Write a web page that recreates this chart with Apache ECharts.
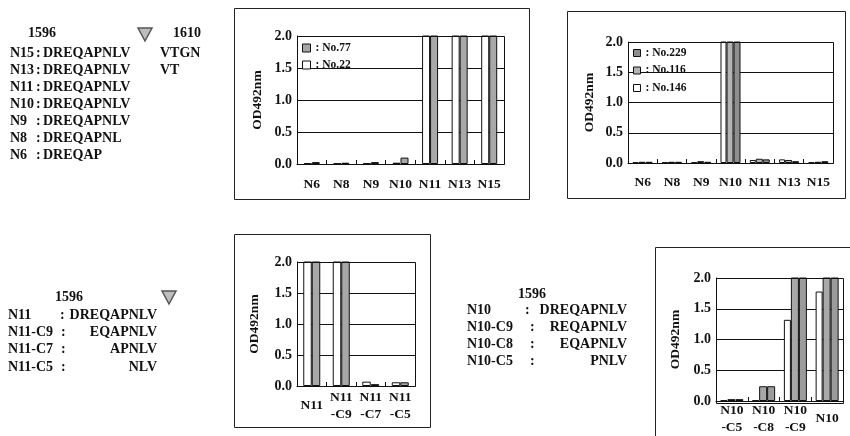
<!DOCTYPE html>
<html><head><meta charset="utf-8">
<script src="https://cdn.jsdelivr.net/npm/echarts@6/dist/echarts.min.js"></script>
<style>html,body{margin:0;padding:0;background:#fff}#c{width:850px;height:436px}</style>
</head><body><div id="c"></div>
<script>
// ---- data ----
var cats1 = ['N6','N8','N9','N10','N11','N13','N15'];
var c1_no22 = [0.01,0.01,0.01,0.02,2.5,2.5,2.5];
var c1_no77 = [0.03,0.02,0.03,0.10,2.5,2.5,2.5];

var cats2 = ['N6','N8','N9','N10','N11','N13','N15'];
var c2_no146 = [0.01,0.01,0.01,2.5,0.05,0.06,0.01];
var c2_no116 = [0.02,0.02,0.03,2.5,0.07,0.05,0.02];
var c2_no229 = [0.02,0.02,0.02,2.5,0.06,0.03,0.03];

var cats3 = ['N11','N11\n-C9','N11\n-C7','N11\n-C5'];
var c3_white = [2.5,2.5,0.07,0.06];
var c3_gray  = [2.5,2.5,0.03,0.06];

var cats4 = ['N10\n-C5','N10\n-C8','N10\n-C9','N10'];
var c4_white = [0.01,0.01,1.32,1.78];
var c4_grayA = [0.03,0.24,2.5,2.5];
var c4_grayB = [0.03,0.24,2.5,2.5];

var yTicks = [0,0.5,1.0,1.5,2.0];

// ---- layout ----
var FONT = 'Liberation Serif';
var grids = [
  {left:297, top:36, width:207, height:128},
  {left:628, top:42, width:205, height:121},
  {left:297, top:262, width:118, height:124},
  {left:716, top:278, width:127, height:125}
];
var nameGaps = [32, 31, 35, 33];
var labelMargins = [21, 20, 20, 18];
var catsAll = [cats1, cats2, cats3, cats4];

var xAxes = [], yAxes = [];
grids.forEach(function(g, i){
  xAxes.push({type:'category', gridIndex:i, data:catsAll[i], boundaryGap:true,
    axisLine:{lineStyle:{color:'#111', width:1}},
    axisTick:{show:true, inside:true, length:4, lineStyle:{color:'#111'}},
    axisLabel:{color:'#111', fontFamily:FONT, fontWeight:'bold', fontSize:13.5, margin:labelMargins[i], verticalAlign:'middle', lineHeight:17, interval:0}
  });
  yAxes.push({type:'value', gridIndex:i, min:yTicks[0], max:yTicks[yTicks.length-1], interval:0.5,
    name:'OD492nm', nameLocation:'middle', nameGap:nameGaps[i], nameRotate:90,
    nameTextStyle:{color:'#111', fontFamily:FONT, fontWeight:'bold', fontSize:13.5},
    axisLine:{show:true, lineStyle:{color:'#111'}},
    axisTick:{show:false},
    splitLine:{show:true, lineStyle:{color:'#111', width:1}},
    axisLabel:{color:'#111', fontFamily:FONT, fontWeight:'bold', fontSize:14, margin:5, formatter:function(v){return v.toFixed(1);}}
  });
});

function bar(name, data, gi, color, w, gap){
  return {type:'bar', name:name, data:data, xAxisIndex:gi, yAxisIndex:gi, barWidth:w, barGap:gap,
    itemStyle:{color:color, borderColor:'#111', borderWidth:1}, clip:true, animation:false};
}
var GRAY = '#a8a8a8';
var series = [
  bar('No.22', c1_no22, 0, '#ffffff', 8, '0%'),
  bar('No.77', c1_no77, 0, GRAY, 8, '0%'),
  bar('No.146', c2_no146, 1, '#ffffff', 6, '20%'),
  bar('No.116', c2_no116, 1, '#b4b4b4', 7, '0%'),
  bar('No.229', c2_no229, 1, '#8e8e8e', 7, '0%'),
  bar('c3w', c3_white, 2, '#ffffff', 8.5, '0%'),
  bar('c3g', c3_gray, 2, GRAY, 8.5, '0%'),
  bar('c4w', c4_white, 3, '#ffffff', 7, '20%'),
  bar('c4a', c4_grayA, 3, GRAY, 8, '0%'),
  bar('c4b', c4_grayB, 3, '#9c9c9c', 8, '0%')
];

// ---- graphic text ----
var G = [];
function txt(s, x, y, align){
  G.push({type:'text', x:x, y:y, style:{text:s, fill:'#111', font:'bold 14px "' + FONT + '"', textAlign:align||'left', textVerticalAlign:'middle'}});
}
function rect(x, y, w, h, z){
  G.push({type:'rect', z: z||0, shape:{x:x, y:y, width:w, height:h}, style:{fill:'none', stroke:'#222', lineWidth:1}});
}
function tri(x, y){
  G.push({type:'polygon', shape:{points:[[x,y],[x+14,y],[x+7,y+13]]}, style:{fill:'#bdbdbd', stroke:'#555', lineWidth:1.5}});
}
// block 1
txt('1596', 28, 33); txt('1610', 173, 33); tri(138, 28);
var b1Labels = ['N15','N13','N11','N10','N9','N8','N6'];
var b1Seqs = ['DREQAPNLV','DREQAPNLV','DREQAPNLV','DREQAPNLV','DREQAPNLV','DREQAPNL','DREQAP'];
var b1Ext = ['VTGN','VT','','','','',''];
var b1Y = [53,70,87,104,121,138,155];
b1Labels.forEach(function(l, i){
  txt(l, 10, b1Y[i]); txt(':', 36, b1Y[i]); txt(b1Seqs[i], 43, b1Y[i]);
  if (b1Ext[i]) txt(b1Ext[i], 160, b1Y[i]);
});
// block 2
txt('1596', 55, 297); tri(162, 291);
var b2Labels = ['N11','N11-C9','N11-C7','N11-C5'];
var b2Seqs = ['DREQAPNLV','EQAPNLV','APNLV','NLV'];
var b2Y = [315,332,349,367];
b2Labels.forEach(function(l, i){
  txt(l, 8, b2Y[i]); txt(':', i===0?60:61, b2Y[i]); txt(b2Seqs[i], 157, b2Y[i], 'right');
});
// block 3
txt('1596', 518, 294);
var b3Labels = ['N10','N10-C9','N10-C8','N10-C5'];
var b3Seqs = ['DREQAPNLV','REQAPNLV','EQAPNLV','PNLV'];
var b3Y = [310,327,344,361];
b3Labels.forEach(function(l, i){
  txt(l, 467, b3Y[i]); txt(':', i===0?525:530, b3Y[i]); txt(b3Seqs[i], 627, b3Y[i], 'right');
});
// frames
rect(234.5, 8.5, 295, 191);
rect(567.5, 11.5, 278, 187);
rect(234.5, 234.5, 196, 193);
rect(655.5, 247.5, 210, 200);
// plot borders on top
grids.forEach(function(g){ G.push({type:'rect', z:100, shape:{x:g.left+0.5, y:g.top+0.5, width:g.width, height:g.height}, style:{fill:'none', stroke:'#111', lineWidth:1}}); });

var legendTxt = {color:'#111', fontFamily:FONT, fontWeight:'bold', fontSize:11.5};
var option = {
  animation:false,
  textStyle:{fontFamily:FONT},
  grid: grids,
  xAxis: xAxes,
  yAxis: yAxes,
  legend: [
    {data:['No.77','No.22'], orient:'vertical', left:302, top:42, itemWidth:8, itemHeight:8, itemGap:5, icon:'rect',
     formatter:': {name}', textStyle:legendTxt, itemStyle:{borderColor:'#111', borderWidth:1}, selectedMode:false, padding:0},
    {data:['No.229','No.116','No.146'], orient:'vertical', left:633, top:47, itemWidth:7, itemHeight:7, itemGap:5.5, icon:'rect',
     formatter:': {name}', textStyle:legendTxt, itemStyle:{borderColor:'#111', borderWidth:1}, selectedMode:false, padding:0}
  ],
  series: series,
  graphic: G
};
var chart = echarts.init(document.getElementById('c'), null, {renderer:'canvas'});
chart.setOption(option);
</script></body></html>
